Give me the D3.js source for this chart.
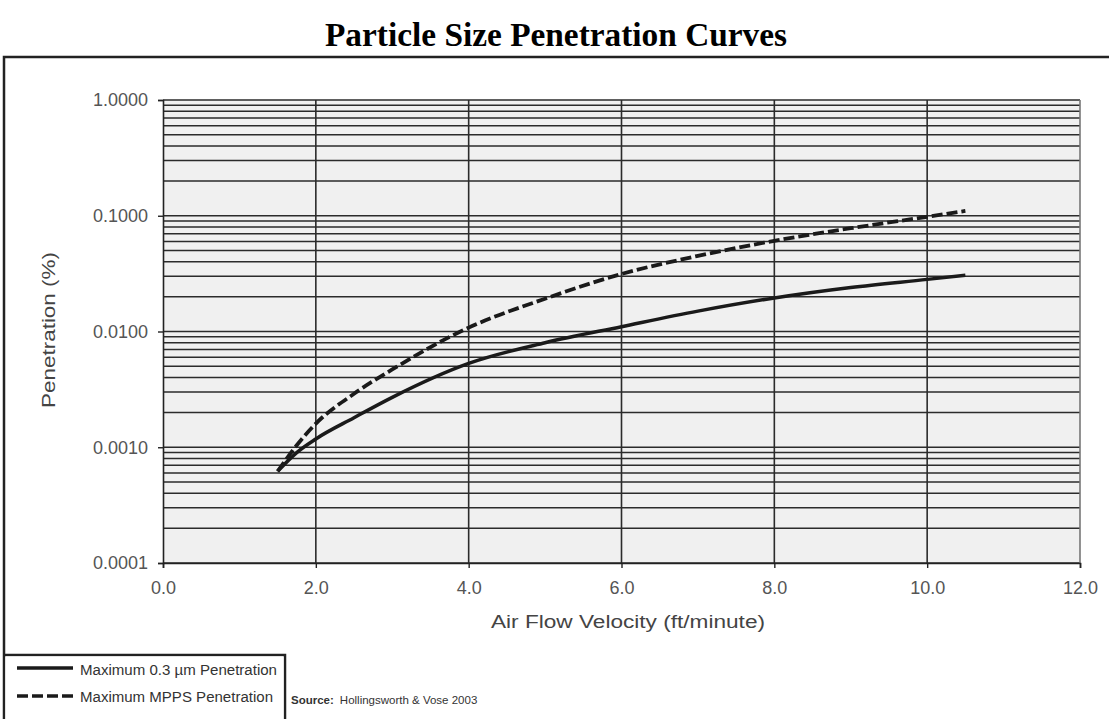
<!DOCTYPE html>
<html>
<head>
<meta charset="utf-8">
<script src="https://cdn.jsdelivr.net/npm/d3@7"></script>
<style>
  body { margin: 0; background: #fff; }
  text { font-family: "Liberation Sans", Arial, sans-serif; }
</style>
</head>
<body>
<svg id="chart" width="1109" height="719"></svg>
<script>
// values
const velocity = [1.5, 1.75, 2.0, 2.5, 3.0, 4.0, 5.0, 6.0, 7.0, 8.0, 9.0, 10.0, 10.5]
const pen03 = [0.00062, 0.00090, 0.00118, 0.0018, 0.0027, 0.0053, 0.0080, 0.0110, 0.0150, 0.0195, 0.0240, 0.0282, 0.0306]
const penMPPS = [0.00062, 0.00104, 0.0016, 0.0029, 0.0047, 0.0108, 0.0192, 0.0314, 0.0450, 0.0608, 0.0780, 0.0980, 0.1100]
const xTicks = [0, 2, 4, 6, 8, 10, 12]
const yTicks = [0.0001, 0.001, 0.01, 0.1, 1]
const seriesNames = ['Maximum 0.3 µm Penetration', 'Maximum MPPS Penetration']

let svg = d3.select('#chart')

let x = d3.scaleLinear().domain([0, 12]).range([163, 1080])
let y = d3.scaleLog().domain([0.0001, 1]).range([563, 100])

// title
svg.append('text')
    .attr('x', 556).attr('y', 46)
    .attr('text-anchor', 'middle')
    .attr('textLength', 462).attr('lengthAdjust', 'spacingAndGlyphs')
    .style('font-family', '"Liberation Serif", "Times New Roman", serif')
    .style('font-weight', 'bold')
    .style('font-size', '33px')
    .text('Particle Size Penetration Curves')

// outer frame
svg.append('path')
    .attr('d', 'M4,719V57H1109')
    .attr('fill', 'none').attr('stroke', '#222').attr('stroke-width', 2.5)

// plot background
svg.append('rect')
    .attr('x', x(0)).attr('y', y(1))
    .attr('width', x(12) - x(0)).attr('height', y(0.0001) - y(1))
    .attr('fill', '#f0f0f0')

// log gridlines (1..9 per decade)
let minor = []
for (let e = -4; e < 0; e++) {
    for (let m = 1; m < 10; m++) minor.push(m * Math.pow(10, e))
}
minor.push(1)
svg.append('g').selectAll('line')
    .data(minor)
    .enter().append('line')
    .attr('x1', x(0)).attr('x2', x(12))
    .attr('y1', d => y(d)).attr('y2', d => y(d))
    .attr('stroke', '#2b2b2b').attr('stroke-width', 1.5)

// vertical gridlines
svg.append('g').selectAll('line')
    .data(xTicks.slice(1))
    .enter().append('line')
    .attr('x1', d => x(d)).attr('x2', d => x(d))
    .attr('y1', y(1)).attr('y2', y(0.0001))
    .attr('stroke', d => d === 12 ? '#777' : '#2b2b2b')
    .attr('stroke-width', 1.6)

// axes
let yAxis = d3.axisLeft(y).tickValues(yTicks).tickFormat(d3.format('.4f')).tickSize(5).tickPadding(10)
let gy = svg.append('g').attr('transform', `translate(${x(0)},0)`).call(yAxis)
let xAxis = d3.axisBottom(x).tickValues(xTicks).tickFormat(d3.format('.1f')).tickSize(5).tickPadding(13)
let gx = svg.append('g').attr('transform', `translate(0,${y(0.0001)})`).call(xAxis)
;[gx, gy].forEach(g => {
    g.select('.domain').attr('stroke', '#222').attr('stroke-width', 1.6)
    g.selectAll('.tick line').attr('stroke', '#222').attr('stroke-width', 1.4)
    g.selectAll('.tick text')
        .style('font-family', '"Liberation Sans", Arial, sans-serif')
        .style('font-size', '18px').attr('fill', '#555')
})

// axis titles
svg.append('text')
    .attr('x', 628).attr('y', 628)
    .attr('text-anchor', 'middle')
    .attr('textLength', 274).attr('lengthAdjust', 'spacingAndGlyphs')
    .style('font-size', '18px').attr('fill', '#444')
    .text('Air Flow Velocity (ft/minute)')
svg.append('text')
    .attr('transform', 'translate(55,330) rotate(-90)')
    .attr('text-anchor', 'middle')
    .attr('textLength', 156).attr('lengthAdjust', 'spacingAndGlyphs')
    .style('font-size', '18px').attr('fill', '#444')
    .text('Penetration (%)')

// curves
let line = d3.line()
    .x(d => x(d[0]))
    .y(d => y(d[1]))
    .curve(d3.curveMonotoneX)

svg.append('path')
    .attr('d', line(d3.zip(velocity, pen03)))
    .attr('fill', 'none').attr('stroke', '#1a1a1a').attr('stroke-width', 3.5)
svg.append('path')
    .attr('d', line(d3.zip(velocity, penMPPS)))
    .attr('fill', 'none').attr('stroke', '#1a1a1a').attr('stroke-width', 3.8)
    .attr('stroke-dasharray', '11,4')

// legend box
svg.append('path')
    .attr('d', 'M4,655H285V719')
    .attr('fill', 'none').attr('stroke', '#222').attr('stroke-width', 2.5)
svg.append('rect')
    .attr('x', 5.5).attr('y', 656.5).attr('width', 278).attr('height', 64)
    .attr('fill', '#fff')

let legend = svg.append('g')
legend.selectAll('line')
    .data(seriesNames)
    .enter().append('line')
    .attr('x1', 17).attr('x2', 73)
    .attr('y1', (d, i) => 668 + i * 28).attr('y2', (d, i) => 668 + i * 28)
    .attr('stroke', '#1a1a1a').attr('stroke-width', 3.5)
    .attr('stroke-dasharray', (d, i) => i ? '11,4' : null)
legend.selectAll('text')
    .data(seriesNames)
    .enter().append('text')
    .attr('x', 80).attr('y', (d, i) => 675 + i * 27)
    .attr('textLength', (d, i) => i ? 193 : 197).attr('lengthAdjust', 'spacingAndGlyphs')
    .style('font-size', '15.5px').attr('fill', '#333')
    .text(d => d)

// source note
let srcLabel = svg.append('text')
    .attr('x', 291).attr('y', 704)
    .style('font-size', '11.5px').style('font-weight', 'bold').attr('fill', '#333')
    .text('Source:')
let labelW = srcLabel.node().getComputedTextLength()
svg.append('text')
    .attr('x', 291 + labelW + 6).attr('y', 704)
    .style('font-size', '11.5px').attr('fill', '#333')
    .text('Hollingsworth & Vose 2003')
</script>
</body>
</html>
